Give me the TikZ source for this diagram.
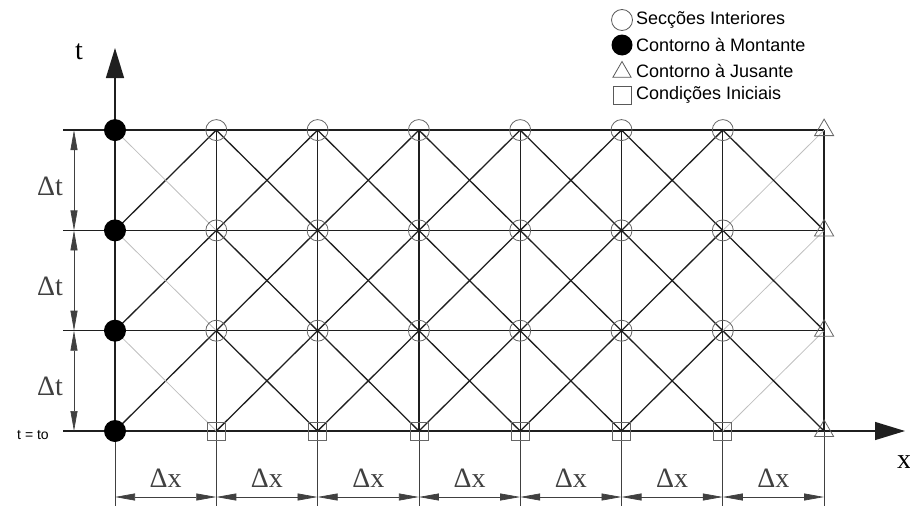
\documentclass[tikz,border=0pt]{standalone}
\usepackage{fontspec}
\setmainfont{Liberation Serif}
\newfontfamily\legfont{Liberation Sans}
\usetikzlibrary{arrows.meta,shapes.geometric}
\tikzset{
  malha/.style={line width=1.3pt, black!88},
  caracoff/.style={line width=0.8pt, black!25},
  cota/.style={line width=0.7pt, black!75},
  cotaseta/.style={cota, {Triangle[width=7pt,length=20pt]}-{Triangle[width=7pt,length=20pt]}},
  eixo/.style={malha, -{Triangle[width=18pt,length=30pt]}},
  interior/.style={circle, draw=black!60, line width=0.8pt, minimum size=21pt, inner sep=0pt},
  montante/.style={circle, fill=black, minimum size=22pt, inner sep=0pt},
  jusante/.style={regular polygon, regular polygon sides=3, draw=black!60, line width=0.8pt, minimum size=22pt, inner sep=0pt},
  inicial/.style={rectangle, draw=black!60, line width=0.8pt, minimum size=18pt, inner sep=0pt},
  delta/.style={font=\fontsize{28}{28}\selectfont, inner sep=0pt},
  legenda/.style={font=\legfont\fontsize{18}{18}\selectfont, anchor=west, inner sep=0pt}
}
\begin{document}
\begin{tikzpicture}[x=1pt,y=-1pt]
    \useasboundingbox (0,0) rectangle (910,506);
    % Pontos da malha
    \foreach \i in {0,...,7} {
        \foreach \j in {0,...,3} { \coordinate (p\i\j) at ({115+101.3*\i},{431-100.3*\j}); }
        \coordinate (b\i) at ({115+101.3*\i},506);
        \coordinate (c\i) at ({115+101.3*\i},497);
    }
    \foreach \j in {0,...,3} {
        \coordinate (e\j) at (63,{431-100.3*\j});
        \coordinate (d\j) at (74,{431-100.3*\j});
    }
    \coordinate (ttip) at (115,48);
    \coordinate (xtip) at (905,431);
    % Linhas horizontais e verticais
    \foreach \j in {1,2,3} { \draw[malha] (e\j) -- (p7\j); }
    \draw[eixo] (e0) -- (xtip);
    \draw[eixo] (p00) -- (ttip);
    \draw[cota] (p00) -- (b0);
    \foreach \i in {1,...,7} { \draw[malha] (p\i3) -- (p\i0); \draw[cota] (p\i0) -- (b\i); }
    % Caracteristicas
    \foreach \i in {0,...,6} {
        \foreach \j in {0,1,2} {
            \pgfmathtruncatemacro{\k}{\i+1}
            \pgfmathtruncatemacro{\l}{\j+1}
            \ifnum\i=6 \draw[caracoff] (p\i\j) -- (p\k\l); \else \draw[malha] (p\i\j) -- (p\k\l); \fi
            \ifnum\i=0 \draw[caracoff] (p\i\l) -- (p\k\j); \else \draw[malha] (p\i\l) -- (p\k\j); \fi
        }
    }
    % Seccoes
    \foreach \j in {0,...,3} {
        \node[montante] (m\j) at (p0\j) {};
        \node[jusante] (js\j) at (p7\j) {};
    }
    \foreach \i in {1,...,6} {
        \node[inicial] (ci\i) at (p\i0) {};
        \foreach \j in {1,2,3} { \node[interior] (s\i\j) at (p\i\j) {}; }
    }
    % Cotas
    \foreach \i in {0,...,6} {
        \pgfmathtruncatemacro{\k}{\i+1}
        \draw[cotaseta] (c\i) -- (c\k) node[delta, midway, yshift=19pt] (dx\i) {Δx};
    }
    \foreach \j in {0,1,2} {
        \pgfmathtruncatemacro{\l}{\j+1}
        \draw[cotaseta] (d\j) -- (d\l) node[delta, midway, xshift=-24pt, yshift=-6pt] (dt\j) {Δt};
    }
    % Eixos
    \node[delta] (tlab) at (79,52) {t};
    \node[delta, anchor=west] (xlab) at (897,462) {x};
    \node[font=\legfont\fontsize{14}{14}\selectfont, inner sep=0pt] (t0) at (33,435) {t = to};
    % Legenda
    \node[interior, draw=black!65] (l1) at (622,20) {};
    \node[legenda] (lt1) at (636,20) {Secções Interiores};
    \node[montante, minimum size=21pt] (l2) at (622,45) {};
    \node[legenda] (lt2) at (636,45) {Contorno à Montante};
    \node[jusante, draw=black!65, minimum size=21pt] (l3) at (622,72) {};
    \node[legenda] (lt3) at (636,71) {Contorno à Jusante};
    \node[inicial, draw=black!65] (l4) at (622,95) {};
    \node[legenda] (lt4) at (636,95) {Condições Iniciais};
\end{tikzpicture}
\end{document}
